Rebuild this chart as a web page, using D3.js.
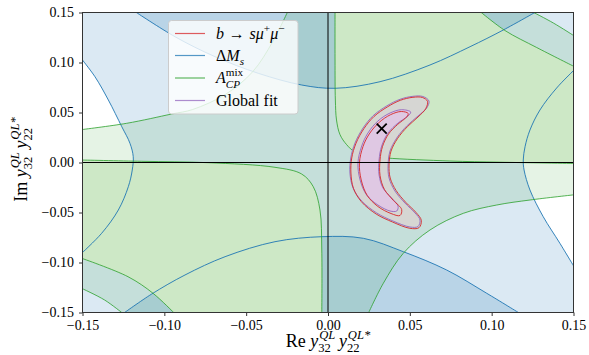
<!DOCTYPE html>
<html lang="en">
<head>
<meta charset="UTF-8">
<title>Leptoquark coupling fit</title>
<script src="https://d3js.org/d3.v7.min.js"></script>
<style>
  body { margin: 0; background: #fff; }
  svg text { font-family: "Liberation Serif", "DejaVu Serif", serif; }
</style>
</head>
<body>
<svg width="589" height="355"></svg>
<script>
// ---- data ----
const xTicks = [-0.15, -0.10, -0.05, 0.00, 0.05, 0.10, 0.15];
const yTicks = [-0.15, -0.10, -0.05, 0.00, 0.05, 0.10, 0.15];

// Delta M_s contours
const blueTop = [[-0.118,0.151],[-0.0935,0.1258],[-0.069,0.1058],[-0.0426,0.0892],[-0.0161,0.0775],[0.0043,0.0742],[0.0318,0.0808],[0.0623,0.0975],[0.0868,0.1158],[0.1071,0.1325],[0.1275,0.151]];
const blueBottom = [[-0.1251,-0.151],[-0.1077,-0.1315],[-0.0874,-0.1125],[-0.0629,-0.0942],[-0.0324,-0.0792],[-0.0038,-0.0742],[0.0216,-0.0758],[0.046,-0.0892],[0.0725,-0.1075],[0.097,-0.1308],[0.1173,-0.151]];
const blueLeft = [[-0.151,0.1045],[-0.1424,0.0858],[-0.1342,0.0625],[-0.126,0.0358],[-0.121,0.0192],[-0.119,0.0058],[-0.1196,-0.0075],[-0.122,-0.0242],[-0.1281,-0.0475],[-0.1383,-0.0708],[-0.151,-0.0915]];
const blueRight = [[0.151,0.0935],[0.1397,0.0745],[0.1295,0.0525],[0.1234,0.0325],[0.1204,0.0158],[0.1193,0.0025],[0.1198,-0.0075],[0.1234,-0.0275],[0.1315,-0.0542],[0.1417,-0.0808],[0.151,-0.106]];

// A_CP^mix contours
const greenTL = [[-0.151,0.0328],[-0.123,0.0392],[-0.0955,0.0485],[-0.0827,0.053],[-0.0623,0.0685],[-0.046,0.0908],[-0.0338,0.1208],[-0.0246,0.151]];
const greenBR = [[0.0246,-0.151],[0.0338,-0.1208],[0.046,-0.0908],[0.0623,-0.0675],[0.0827,-0.0508],[0.1031,-0.0425],[0.1234,-0.0375],[0.151,-0.0322]];
const greenQ1 = [[0.0043,0.151],[0.0043,0.1025],[0.0045,0.0625],[0.0052,0.0425],[0.0073,0.028],[0.0114,0.0178],[0.0165,0.0105],[0.0257,0.0065],[0.0359,0.0045],[0.0745,0.0015],[0.1051,0.0003],[0.151,-0.001]];
const greenQ3 = [[-0.151,0.0025],[-0.1138,0.0012],[-0.0731,-0.0002],[-0.0324,-0.0048],[-0.0161,-0.0115],[-0.009,-0.0242],[-0.0049,-0.0475],[-0.0038,-0.0875],[-0.0038,-0.151]];
const greenTR1 = [[0.0929,0.151],[0.1081,0.132],[0.1275,0.115],[0.151,0.0955]];
const greenBL1 = [[-0.151,-0.0955],[-0.1222,-0.1142],[-0.1069,-0.1308],[-0.0937,-0.151]];
const greenTR2 = [[0.1245,0.151],[0.1377,0.1395],[0.151,0.126]];
const greenBL2 = [[-0.151,-0.1255],[-0.1365,-0.1375],[-0.1253,-0.151]];

// b -> s mu mu and global fit contours
const fitOuter = [[0.0617,0.0615],[0.058,0.066],[0.0519,0.0662],[0.044,0.0632],[0.036,0.0567],[0.0275,0.0467],[0.0214,0.0345],[0.0165,0.0195],[0.0139,0.0045],[0.0134,-0.0105],[0.0153,-0.0255],[0.0206,-0.0385],[0.0298,-0.0505],[0.0397,-0.0585],[0.0501,-0.0645],[0.055,-0.064],[0.0562,-0.0575],[0.0532,-0.0505],[0.047,-0.0405],[0.0409,-0.0285],[0.0373,-0.0155],[0.0367,-0.0025],[0.0379,0.0115],[0.042,0.0245],[0.0481,0.0365],[0.055,0.0465],[0.0603,0.0545]];
const fitInner = [[0.0505,0.0505],[0.045,0.0528],[0.0379,0.0495],[0.0305,0.0415],[0.0244,0.0295],[0.0206,0.0165],[0.0183,-0.0005],[0.0196,-0.0175],[0.0236,-0.0325],[0.0305,-0.0425],[0.0379,-0.0485],[0.042,-0.0485],[0.0428,-0.0435],[0.0389,-0.0355],[0.0336,-0.0255],[0.0312,-0.0125],[0.0312,0.0025],[0.0328,0.0165],[0.0367,0.0295],[0.0428,0.0395],[0.0489,0.0465]];
const bsmmOuter = [[0.0608,0.0612],[0.0577,0.065],[0.0519,0.0652],[0.0442,0.0622],[0.0364,0.0557],[0.0281,0.046],[0.022,0.034],[0.0171,0.0192],[0.0145,0.0045],[0.014,-0.0105],[0.0156,-0.026],[0.0204,-0.0392],[0.0294,-0.0515],[0.0394,-0.0595],[0.05,-0.0658],[0.0556,-0.0652],[0.057,-0.0578],[0.0538,-0.05],[0.0476,-0.04],[0.0416,-0.028],[0.038,-0.0155],[0.0373,-0.0025],[0.0385,0.0113],[0.0425,0.024],[0.0485,0.0358],[0.055,0.0455],[0.0597,0.0538]];
const bsmmInner = [[0.049,0.049],[0.0448,0.051],[0.0382,0.0478],[0.0312,0.04],[0.0252,0.0285],[0.0214,0.016],[0.0192,-0.0005],[0.0203,-0.0175],[0.024,-0.033],[0.0305,-0.044],[0.0385,-0.051],[0.044,-0.053],[0.045,-0.047],[0.04,-0.038],[0.0345,-0.027],[0.0318,-0.013],[0.0318,0.0025],[0.0333,0.016],[0.037,0.0285],[0.0425,0.038],[0.048,0.0455]];

const bestFit = [0.0328, 0.0338];

// ---- layout ----
const pLeft = 82.5, pRight = 573.5, pTop = 12.5, pBottom = 312.5;
const serif = '"Liberation Serif", "DejaVu Serif", serif';
const svg = d3.select("svg");

const x = d3.scaleLinear().domain([-0.15, 0.15]).range([pLeft, pRight]);
const y = d3.scaleLinear().domain([-0.15, 0.15]).range([pBottom, pTop]);
const [xMin, xMax] = [-0.151, 0.151];
const [yMin, yMax] = [-0.151, 0.151];

const C0 = "#1f77b4", C2 = "#2ca02c", C3 = "#d62728", C4 = "#9467bd";

const line = d3.line().x(d => x(d[0])).y(d => y(d[1])).curve(d3.curveCatmullRom);
const closed = d3.line().x(d => x(d[0])).y(d => y(d[1])).curve(d3.curveCatmullRomClosed);
const seg = pts => line(pts).replace(/^M/, "L");
const pt = (a, b) => `L${x(a)},${y(b)}`;
const rev = a => a.slice().reverse();

svg.append("clipPath").attr("id", "plot")
  .append("rect").attr("x", pLeft).attr("y", pTop)
  .attr("width", pRight - pLeft).attr("height", pBottom - pTop);

const plot = svg.append("g").attr("clip-path", "url(#plot)");

// Delta M_s filled regions
plot.append("path")
  .attr("d", line(blueRight) + pt(xMax, yMin) + pt(xMin, yMin) + seg(rev(blueLeft)) + pt(xMin, yMax) + pt(xMax, yMax) + "Z")
  .attr("fill", C0).attr("fill-opacity", 0.16);
[blueTop, blueBottom].forEach(c => {
  plot.append("path").attr("d", line(c) + "Z")
    .attr("fill", C0).attr("fill-opacity", 0.18);
});

// A_CP^mix filled regions
plot.append("path")
  .attr("d", line(greenTL) + seg(greenTR2) + seg(rev(greenBR)) + seg(rev(greenBL2)) + "Z")
  .attr("fill", C2).attr("fill-opacity", 0.12);
plot.append("path").attr("d", line(greenQ1) + seg(rev(greenTR1)) + "Z").attr("fill", "#cde8c6");
plot.append("path").attr("d", line(greenQ3) + seg(rev(greenBL1)) + "Z").attr("fill", "#cde8c6");

// contour lines
[blueTop, blueBottom, blueLeft, blueRight].forEach(c => {
  plot.append("path").attr("d", line(c)).attr("fill", "none")
    .attr("stroke", C0).attr("stroke-width", 1).attr("stroke-opacity", 0.9);
});
[greenTL, greenBR, greenQ1, greenQ3, greenTR1, greenBL1, greenTR2, greenBL2].forEach(c => {
  plot.append("path").attr("d", line(c)).attr("fill", "none")
    .attr("stroke", C2).attr("stroke-width", 1).attr("stroke-opacity", 0.8);
});

// fit region
plot.append("path").attr("d", closed(fitOuter)).attr("fill", "#d6d6d3");
plot.append("path").attr("d", closed(fitInner)).attr("fill", "#dfc8e3");
[[fitOuter, C4], [fitInner, C4], [bsmmOuter, C3], [bsmmInner, C3]].forEach(([c, col]) => {
  plot.append("path").attr("d", closed(c)).attr("fill", "none")
    .attr("stroke", col).attr("stroke-width", 1).attr("stroke-opacity", 0.9);
});

// zero lines
plot.append("line").attr("x1", pLeft).attr("x2", pRight).attr("y1", y(0)).attr("y2", y(0))
  .attr("stroke", "#000").attr("stroke-width", 1);
plot.append("line").attr("x1", x(0)).attr("x2", x(0)).attr("y1", pTop).attr("y2", pBottom)
  .attr("stroke", "#000").attr("stroke-width", 1);

// best fit marker
svg.append("path")
  .attr("transform", `translate(${x(bestFit[0])},${y(bestFit[1])})`)
  .attr("d", "M-5,-5L5,5M-5,5L5,-5")
  .attr("stroke", "#000").attr("stroke-width", 1.8).attr("fill", "none");

// axes
const fmt = d3.format(".2f");
const gx = svg.append("g").attr("transform", `translate(0,${pBottom})`)
  .call(d3.axisBottom(x).tickValues(xTicks).tickFormat(fmt).tickSize(3.5).tickPadding(4));
const gy = svg.append("g").attr("transform", `translate(${pLeft},0)`)
  .call(d3.axisLeft(y).tickValues(yTicks).tickFormat(fmt).tickSize(3.5).tickPadding(5));
[gx, gy].forEach(g => {
  g.attr("font-family", serif);
  g.select(".domain").remove();
  g.selectAll(".tick line").attr("stroke", "#333").attr("stroke-width", 1);
  g.selectAll(".tick text").attr("fill", "#000")
    .attr("font-family", serif).attr("font-size", 14);
});

svg.append("rect").attr("x", pLeft).attr("y", pTop)
  .attr("width", pRight - pLeft).attr("height", pBottom - pTop)
  .attr("fill", "none").attr("stroke", "#333").attr("stroke-width", 1);

// math-ish text helper: parts laid out left to right, stack puts a part above/below the previous one
function mathText(parent, parts, fs) {
  const g = parent.append("g");
  let cur = 0, lastStart = 0;
  parts.forEach(p => {
    const start = p.stack ? lastStart : cur;
    const t = g.append("text")
      .attr("x", start + (p.dx || 0) * fs).attr("y", (p.dy || 0) * fs)
      .attr("font-family", serif)
      .attr("font-size", fs * (p.s || 1))
      .attr("font-style", p.i ? "italic" : "normal")
      .text(p.t);
    const end = start + (p.dx || 0) * fs + t.node().getComputedTextLength();
    cur = p.stack ? Math.max(cur, end) : end;
    lastStart = start;
    cur += (p.gap || 0) * fs;
  });
  return { g, width: cur };
}

const coupling = [
  { t: "y", i: true },
  { t: "QL", i: true, s: 0.7, dy: -0.45, dx: 0.05 },
  { t: "32", s: 0.7, dy: 0.3, stack: true, gap: 0.2 },
  { t: "y", i: true },
  { t: "QL*", i: true, s: 0.7, dy: -0.45, dx: 0.05 },
  { t: "22", s: 0.7, dy: 0.3, stack: true }
];
const xl = mathText(svg, [{ t: "Re", gap: 0.25 }].concat(coupling), 18);
xl.g.attr("transform", `translate(${x(0) - xl.width / 2},347)`);
const yl = mathText(svg, [{ t: "Im", gap: 0.25 }].concat(coupling), 18);
yl.g.attr("transform", `translate(27,${y(0) - 3 + yl.width / 2}) rotate(-90)`);

// legend
const legendItems = [
  { color: C3, parts: [{ t: "b", i: true, gap: 0.3 }, { t: "→", gap: 0.3 }, { t: "sμ", i: true }, { t: "+", s: 0.7, dy: -0.42 }, { t: "μ", i: true }, { t: "−", s: 0.7, dy: -0.42 }] },
  { color: C0, parts: [{ t: "Δ" }, { t: "M", i: true }, { t: "s", i: true, s: 0.7, dy: 0.25 }] },
  { color: C2, parts: [{ t: "A", i: true }, { t: "mix", s: 0.7, dy: -0.45 }, { t: "CP", i: true, s: 0.7, dy: 0.3, stack: true }] },
  { color: C4, parts: [{ t: "Global fit" }] }
];
const lg = svg.append("g");
lg.append("rect").attr("x", 168.5).attr("y", 20.5).attr("width", 129.5).attr("height", 93.5)
  .attr("rx", 3).attr("fill", "#fff").attr("fill-opacity", 0.8)
  .attr("stroke", "#ccc").attr("stroke-width", 1);
const rowY = [33.5, 55.5, 78, 100.5];
legendItems.forEach((d, i) => {
  lg.append("line").attr("x1", 175).attr("x2", 205).attr("y1", rowY[i]).attr("y2", rowY[i])
    .attr("stroke", d.color).attr("stroke-width", 1.2).attr("stroke-opacity", 0.75);
  const t = mathText(lg, d.parts, 16);
  t.g.attr("transform", `translate(216,${rowY[i] + 5})`);
});
</script>
</body>
</html>
